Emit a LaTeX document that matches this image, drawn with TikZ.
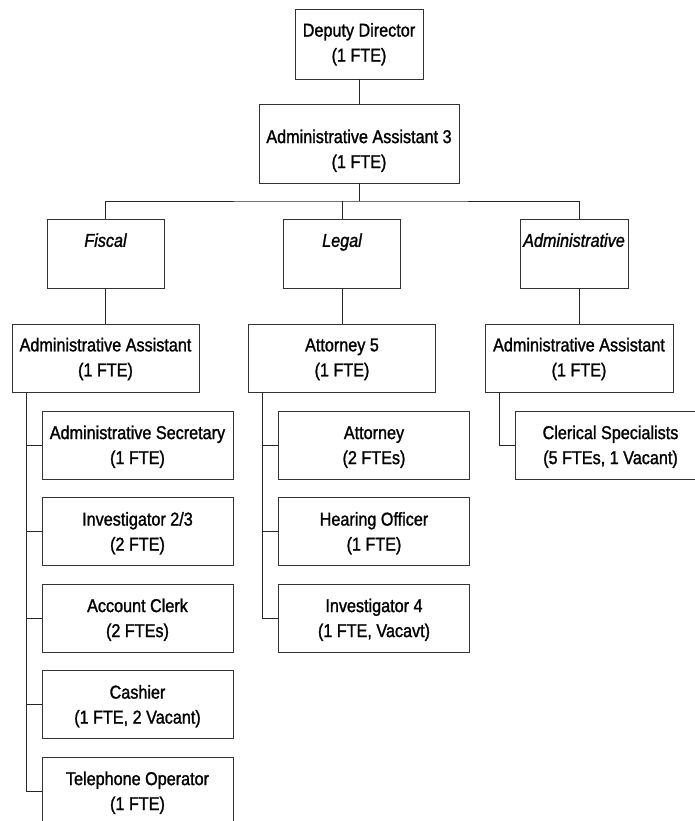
\documentclass[tikz,border=0pt]{standalone}
\usepackage{fontspec}
\setmainfont[FakeStretch=0.87,FakeBold=1.3]{Liberation Sans}
\usetikzlibrary{calc}
\newcommand\fst[1][15.5]{\rule{0pt}{#1pt}}
\begin{document}
\begin{tikzpicture}[x=1pt,y=-1pt,
  box/.style={draw=black!80, line width=0.9pt, rectangle, inner sep=0pt, align=center,
    font=\fontsize{18.6}{25}\selectfont},
  dept/.style={box, minimum width=117, minimum height=69},
  mid/.style={box, minimum width=187, minimum height=68},
  child/.style={box, minimum width=191, minimum height=68},
  conn/.style={draw=black!85, line width=0.9pt}]
\useasboundingbox (0,0) rectangle (695,821);
\clip (0,0) rectangle (695,821);

\node[box, minimum width=128, minimum height=70] (dd) at (359,44) {\fst[14]Deputy Director\\(1 FTE)};
\node[box, minimum width=200, minimum height=79] (aa3) at (359,143.5) {\fst[28]Administrative Assistant 3\\(1 FTE)};

\node[dept] (fis) at (105.5,253.5) {\fst\itshape Fiscal\\\vphantom{(}};
\node[dept] (leg) at (342,253.5) {\fst\itshape Legal\\\vphantom{(}};
\node[dept, minimum width=108] (adm) at (574,253.5) {\fst\itshape Administrative\\\vphantom{(}};

\node[mid] (aaf) at (105.5,358) {\fst Administrative Assistant\\(1 FTE)};
\node[mid] (att5) at (342,358) {\fst Attorney 5\\(1 FTE)};
\node[mid, minimum width=188] (aaa) at (579,358) {\fst Administrative Assistant\\(1 FTE)};

\node[child] (f1) at (137.5,445) {\fst[17]Administrative Secretary\\(1 FTE)};
\node[child] (f2) at (137.5,531.5) {\fst[17]Investigator 2/3\\(2 FTE)};
\node[child] (f3) at (137.5,618) {\fst[17]Account Clerk\\(2 FTEs)};
\node[child] (f4) at (137.5,704.5) {\fst[17]Cashier\\(1 FTE, 2 Vacant)};
\node[child] (f5) at (137.5,791) {\fst[17]Telephone Operator\\(1 FTE)};

\node[child] (l1) at (374,445) {\fst[17]Attorney\\(2 FTEs)};
\node[child] (l2) at (374,531.5) {\fst[17]Hearing Officer\\(1 FTE)};
\node[child] (l3) at (374,618) {\fst[17]Investigator 4\\(1 FTE, Vacavt)};

\node[child] (a1) at (610.5,445) {\fst[17]Clerical Specialists\\(5 FTEs, 1 Vacant)};

\coordinate (busy) at (0,201);
\coordinate (bus) at (aa3.south |- busy);
\draw[conn] (dd.south) -- (aa3.north);
\draw[conn] (aa3.south) -- (bus);
\draw[conn] (fis.north) |- (bus) -| (aaa.north |- adm.north);
\draw[conn] (leg.north) -- (leg.north |- bus);
\draw[conn] (fis.south) -- (aaf.north);
\draw[conn] (leg.south) -- (att5.north);
\draw[conn] (adm.south -| aaa.north) -- (aaa.north);

\coordinate (fsp) at ($(aaf.south west)+(15,0)$);
\coordinate (lsp) at ($(att5.south west)+(14,0)$);
\coordinate (asp) at ($(aaa.south west)+(15,0)$);
\foreach \n in {f1,f2,f3,f4,f5} {\draw[conn] (fsp) |- (\n.west);}
\foreach \n in {l1,l2,l3} {\draw[conn] (lsp) |- (\n.west);}
\draw[conn] (asp) |- (a1.west);
\end{tikzpicture}
\end{document}
